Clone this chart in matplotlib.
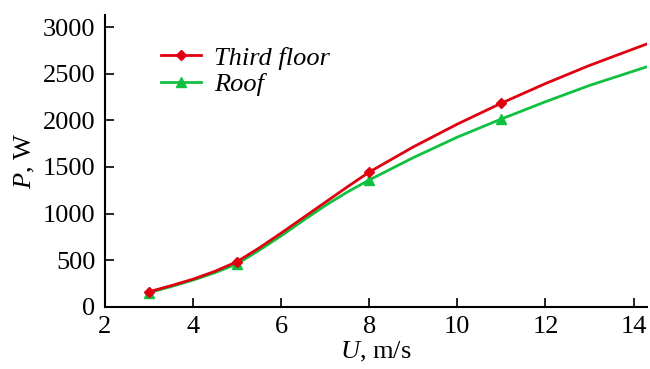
import matplotlib
matplotlib.use("Agg")
import matplotlib.pyplot as plt

# marker points (measured)
u_marks = [3, 5, 8, 11]
p_third_marks = [160, 483, 1445, 2185]
p_roof_marks = [150, 460, 1360, 2015]

# fitted curves
u_curve = [3, 3.5, 4, 4.5, 5, 5.5, 6, 6.5, 7, 7.5, 8, 9, 10, 11, 12, 13, 14.3]
p_third_curve = [160, 225, 295, 380, 483, 630, 790, 955, 1120, 1285, 1445, 1715, 1960, 2185, 2395, 2590, 2820]
p_roof_curve = [150, 215, 285, 365, 460, 605, 760, 925, 1085, 1230, 1360, 1600, 1820, 2015, 2200, 2375, 2575]

plt.rcParams['font.family'] = ['Liberation Serif', 'DejaVu Serif']
plt.rcParams['mathtext.fontset'] = 'custom'
plt.rcParams['mathtext.it'] = 'Liberation Serif:italic'
plt.rcParams['mathtext.rm'] = 'Liberation Serif'

red = '#e00010'
green = '#10c040'

fig = plt.figure(figsize=(6.5, 3.69), dpi=100)
ax = fig.add_axes([0.1615, 0.169, 0.8335, 0.79])

ax.plot(u_curve, p_third_curve, color=red, lw=2, zorder=3)
ax.plot(u_curve, p_roof_curve, color=green, lw=2, zorder=2)
ax.plot(u_marks, p_third_marks, ls='none', marker='D', ms=5.5, color=red, zorder=3)
ax.plot(u_marks, p_roof_marks, ls='none', marker='^', ms=7, color=green, zorder=2)

# legend handles
ax.plot([], [], color=red, lw=2, marker='D', ms=5, label='Third floor')
ax.plot([], [], color=green, lw=2, marker='^', ms=7, label='Roof')
leg = ax.legend(loc='upper left', bbox_to_anchor=(0.06, 0.975), frameon=False,
                prop={'style': 'italic', 'size': 19}, handlelength=1.5,
                handletextpad=0.5, labelspacing=0.1)

ax.set_xlim(2, 14.3)
ax.set_ylim(0, 3130)
ax.set_xticks([2, 4, 6, 8, 10, 12, 14])
ax.set_yticks([0, 500, 1000, 1500, 2000, 2500, 3000])
ax.spines['top'].set_visible(False)
ax.spines['right'].set_visible(False)
for s in ['left', 'bottom']:
    ax.spines[s].set_linewidth(1.5)
ax.tick_params(direction='in', length=6.5, width=1.2, labelsize=19)
ax.tick_params(axis='y', pad=7)
ax.tick_params(axis='x', pad=7)

ax.set_xlabel('$U$, m/s', fontsize=19, labelpad=1)
ax.set_ylabel('$P$, W', fontsize=19, labelpad=4)

fig.savefig('out.png', dpi=100)
